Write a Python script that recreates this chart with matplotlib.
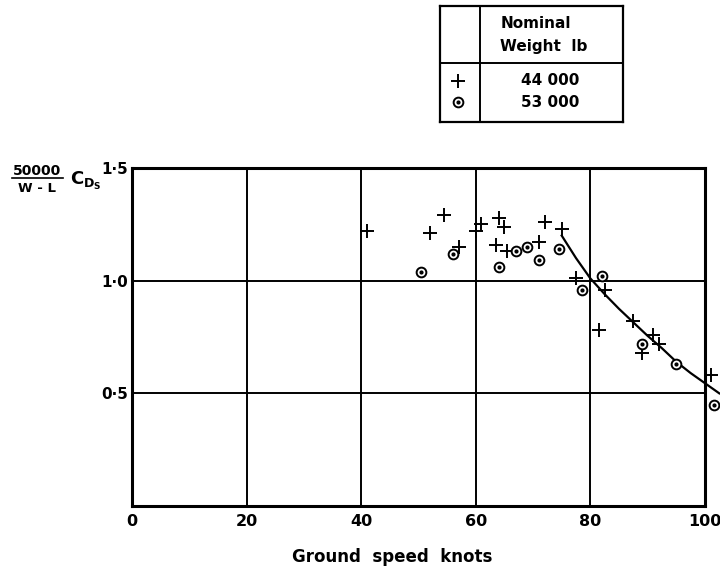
import matplotlib

matplotlib.use("Agg")
import matplotlib.pyplot as plt

plt.rcParams["font.family"] = ["DejaVu Sans"]
plt.rcParams["font.weight"] = "bold"
plt.rcParams["axes.labelweight"] = "bold"
plt.rcParams["mathtext.default"] = "bf"

# data
cross_speed = [41, 52, 54.5, 57, 60, 61, 64, 65, 63.5, 65.5, 71, 72, 75,
               77.5, 81.5, 82.5, 87.5, 91, 92, 89, 101]
cross_coef = [1.22, 1.21, 1.29, 1.15, 1.22, 1.25, 1.28, 1.24, 1.16, 1.13, 1.17, 1.26, 1.23,
              1.01, 0.78, 0.96, 0.82, 0.76, 0.72, 0.68, 0.58]

circle_speed = [50.5, 56, 64, 67, 69, 71, 74.5, 78.5, 82, 89, 95, 101.5]
circle_coef = [1.04, 1.12, 1.06, 1.13, 1.15, 1.09, 1.14, 0.96, 1.02, 0.72, 0.63, 0.45]

curve_speed = [75, 77.5, 80, 82.5, 85, 87.5, 90, 92.5, 95, 97.5, 100, 102.5]
curve_coef = [1.20, 1.10, 1.01, 0.94, 0.875, 0.815, 0.755, 0.70, 0.64, 0.59, 0.545, 0.50]

x_ticks = [0, 20, 40, 60, 80, 100]
y_ticks = [0.5, 1.0, 1.5]
y_tick_labels = ["0\u00b75", "1\u00b70", "1\u00b75"]

legend_labels = ["44 000", "53 000"]

fig = plt.figure(figsize=(7.2, 5.71), dpi=100)
ax = fig.add_axes([0.1833, 0.1138, 0.7958, 0.592])

ax.set_xlim(0, 100)
ax.set_ylim(0, 1.5)
ax.set_xticks(x_ticks)
ax.set_xticklabels([str(t) for t in x_ticks])
ax.set_yticks(y_ticks)
ax.set_yticklabels(y_tick_labels)
ax.tick_params(axis="x", length=0, labelsize=11.5, pad=6)
ax.tick_params(axis="y", length=0, labelsize=11, pad=3)

for v in [20, 40, 60, 80]:
    ax.axvline(v, color="black", linewidth=1.4, zorder=1)
for v in [0.5, 1.0]:
    ax.axhline(v, color="black", linewidth=1.4, zorder=1)
for s in ax.spines.values():
    s.set_linewidth(2.2)

ax.plot(curve_speed, curve_coef, color="black", linewidth=1.6, clip_on=False, zorder=2)
ax.plot(cross_speed, cross_coef, linestyle="none", marker="+", markersize=10,
        markeredgewidth=1.4, color="black", clip_on=False, zorder=3)
ax.plot(circle_speed, circle_coef, linestyle="none", marker="o", markersize=7,
        markerfacecolor="white", markeredgecolor="black", markeredgewidth=1.4,
        clip_on=False, zorder=3)
ax.plot(circle_speed, circle_coef, linestyle="none", marker="o", markersize=2,
        color="black", clip_on=False, zorder=4)

ax.set_xlabel("Ground  speed  knots", fontsize=12)
ax.xaxis.set_label_coords(0.454, -0.125)

# y label: 50000/(W-L) C_Ds
fig.text(37 / 720, 1 - 171 / 571, "50000", fontsize=10, ha="center", va="center")
fig.add_artist(plt.Line2D([12 / 720, 63 / 720], [1 - 178 / 571, 1 - 178 / 571],
                          color="black", linewidth=1.2))
fig.text(37 / 720, 1 - 189 / 571, "W - L", fontsize=9.5, ha="center", va="center")
fig.text(70 / 720, 1 - 181 / 571, r"$\mathbf{C}_{\mathbf{D}_{\mathbf{S}}}$",
         fontsize=13, ha="left", va="center")

# weight table
tab = fig.add_axes([440 / 720, 1 - 122 / 571, 183 / 720, 116 / 571])
tab.set_xlim(0, 1)
tab.set_ylim(0, 1)
tab.set_xticks([])
tab.set_yticks([])
for s in tab.spines.values():
    s.set_linewidth(1.6)
tab.axvline(0.219, color="black", linewidth=1.4)
tab.axhline(0.509, color="black", linewidth=1.4)
tab.text(0.33, 0.85, "Nominal", fontsize=11, ha="left", va="center")
tab.text(0.33, 0.65, "Weight  lb", fontsize=11, ha="left", va="center")
tab.text(0.60, 0.355, legend_labels[0], fontsize=11, ha="center", va="center")
tab.text(0.60, 0.17, legend_labels[1], fontsize=11, ha="center", va="center")
tab.plot([0.10], [0.355], marker="+", markersize=10, markeredgewidth=1.4, color="black")
tab.plot([0.10], [0.17], marker="o", markersize=7, markerfacecolor="white",
         markeredgecolor="black", markeredgewidth=1.4)
tab.plot([0.10], [0.17], marker="o", markersize=2, color="black")

fig.savefig("out.png", dpi=100)
